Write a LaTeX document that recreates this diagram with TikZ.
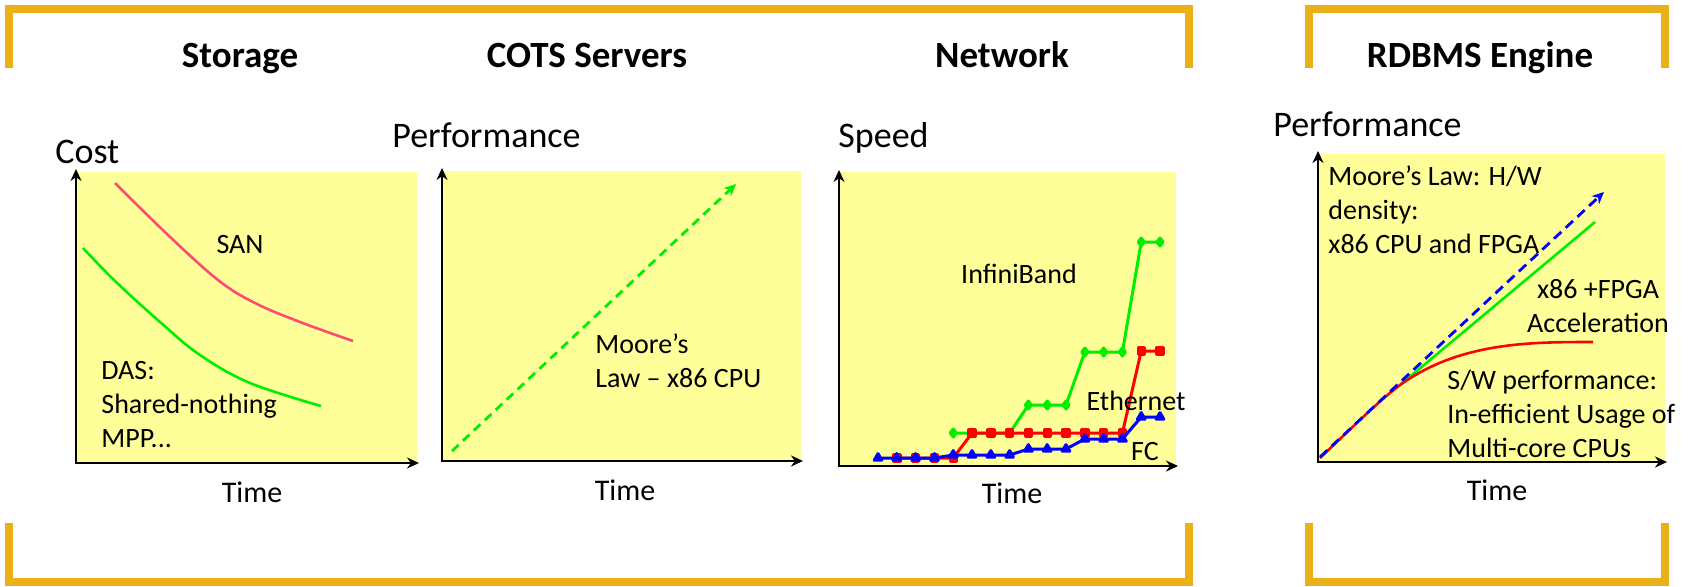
\documentclass[tikz,border=0pt]{standalone}
\usepackage{fontspec}
\setmainfont{Carlito}
\usetikzlibrary{arrows.meta,plotmarks}
\definecolor{bracketgold}{RGB}{234,176,22}
\definecolor{paneltint}{RGB}{255,255,153}
\definecolor{sanpink}{RGB}{255,75,115}
\definecolor{lgreen}{RGB}{0,238,0}
\tikzstyle{panel}=[fill=paneltint]
\tikzstyle{ax}=[draw=black, line width=1.3pt, {Stealth[length=6pt,width=5.5pt]}-{Stealth[length=6pt,width=5.5pt]}]
\tikzstyle{brk}=[draw=bracketgold, line width=4pt]
\tikzstyle{ttl}=[font=\fontsize{18.5}{22}\selectfont\bfseries, anchor=base, inner sep=0]
\tikzstyle{ylab}=[font=\fontsize{18}{21}\selectfont, anchor=base west, inner sep=0]
\tikzstyle{tlab}=[font=\fontsize{15}{18}\selectfont, anchor=base, inner sep=0]
\tikzstyle{lab}=[font=\fontsize{14}{16.8}\selectfont, anchor=base, inner sep=0]
\tikzstyle{blk}=[font=\fontsize{14}{16.8}\selectfont, anchor=base west, align=left, inner sep=0]
\tikzstyle{trend}=[line width=1.4pt, dash pattern=on 4.5pt off 3pt, -{Stealth[length=6pt,width=5.5pt]}]
\tikzstyle{series}=[line width=1.5pt, line join=round]
\begin{document}
\begin{tikzpicture}[x=0.5pt, y=-0.5pt]
	\useasboundingbox (0,0) rectangle (1690,586);

	% brackets
	\draw[brk] (9,68) -- (9,9) -- (1189,9) -- (1189,68);
	\draw[brk] (9,523) -- (9,582) -- (1189,582) -- (1189,523);
	\draw[brk] (1309,68) -- (1309,9) -- (1665,9) -- (1665,68);
	\draw[brk] (1309,523) -- (1309,582) -- (1665,582) -- (1665,523);

	\node [style=ttl] (t1) at (240, 67) {Storage};
	\node [style=ttl] (t2) at (587, 67) {COTS Servers};
	\node [style=ttl] (t3) at (1002, 67) {Network};
	\node [style=ttl] (t4) at (1480, 67) {RDBMS Engine};

	% storage
	\fill[panel] (76,172) rectangle (417,463);
	\coordinate (o1) at (76,463);
	\coordinate (y1) at (76,169);
	\coordinate (x1) at (419,463);
	\draw[ax] (y1) -- (o1) -- (x1);
	\node [style=ylab] (1) at (55, 163) {Cost};
	\node [style=tlab] (2) at (252, 502) {Time};
	\draw[sanpink, line width=1.3pt] plot[smooth, tension=0.6] coordinates {(115,183) (168,235) (218,280) (255,303) (300,322) (353,341)};
	\draw[lgreen, line width=1.3pt] plot[smooth, tension=0.6] coordinates {(83,248) (115,281) (160,322) (200,355) (250,383) (321,406)};
	\node [style=lab] (3) at (240, 253) {SAN};
	% base anchor of a block = its last line
	\node [style=blk] (4) at (101, 447) {DAS:\\Shared-nothing\\MPP...};

	% cots servers
	\fill[panel] (442,171) rectangle (801,461);
	\coordinate (o2) at (442,461);
	\coordinate (y2) at (442,168);
	\coordinate (x2) at (803,461);
	\draw[ax] (y2) -- (o2) -- (x2);
	\node [style=ylab] (5) at (392, 147) {Performance};
	\node [style=tlab] (6) at (625, 500) {Time};
	\coordinate (m1) at (452,451);
	\coordinate (m2) at (736,184);
	\draw[trend, lgreen] (m1) -- (m2);
	\node [style=blk] (7) at (595, 387) {Moore’s\\Law – x86 CPU};

	% network
	\fill[panel] (839,172) rectangle (1176,466);
	\coordinate (o3) at (839,466);
	\coordinate (y3) at (839,170);
	\coordinate (x3) at (1178,466);
	\draw[ax] (y3) -- (o3) -- (x3);
	\node [style=ylab] (8) at (838, 147) {Speed};
	\node [style=tlab] (9) at (1012, 503) {Time};
	\draw[series, lgreen] plot[mark=diamond*, mark size=2pt, mark options={fill=lgreen}] coordinates {(953.2,433) (972,433) (990.8,433) (1009.6,433) (1028.4,405) (1047.2,405) (1066,405) (1084.8,352) (1103.6,352) (1122.4,352) (1141.2,242) (1160,242)};
	\draw[series, red] plot[mark=square*, mark size=1.6pt, mark options={fill=red}] coordinates {(896.8,458) (915.6,458) (934.4,458) (953.2,458) (972,433) (990.8,433) (1009.6,433) (1028.4,433) (1047.2,433) (1066,433) (1084.8,433) (1103.6,433) (1122.4,433) (1141.2,351) (1160,351)};
	\draw[series, blue] plot[mark=triangle*, mark size=2.2pt, mark options={fill=blue}] coordinates {(878,458) (896.8,458) (915.6,458) (934.4,458) (953.2,455) (972,455) (990.8,455) (1009.6,455) (1028.4,449) (1047.2,449) (1066,449) (1084.8,439) (1103.6,439) (1122.4,439) (1141.2,417) (1160,417)};
	\node [style=lab] (10) at (1019, 283) {InfiniBand};
	\node [style=lab] (11) at (1136, 410) {Ethernet};
	\node [style=lab] (12) at (1145, 460) {FC};

	% rdbms engine
	\fill[panel] (1318,154) rectangle (1665,462);
	\coordinate (o4) at (1318,462);
	\coordinate (y4) at (1318,151);
	\coordinate (x4) at (1667,462);
	\draw[ax] (y4) -- (o4) -- (x4);
	\node [style=ylab] (13) at (1273, 136) {Performance};
	\node [style=tlab] (14) at (1497, 500) {Time};
	\coordinate (r1) at (1320,457);
	\coordinate (r2) at (1604,192);
	\coordinate (g1) at (1400,385);
	\coordinate (g2) at (1595,222);
	\draw[lgreen, line width=1.3pt] (g1) -- (g2);
	\draw[red, line width=1.3pt] (1320,458) .. controls (1360,420) and (1380,400) .. (g1) .. controls (1460,342) and (1530,342) .. (1593,342);
	\draw[trend, blue, dash pattern=on 5pt off 3pt] (r1) -- (r2);
	\node [style=blk] (15) at (1328, 253) {Moore’s Law: H/W\\density:\\x86 CPU and FPGA};
	\node [style=lab, align=center] (16) at (1598, 332) {x86 +FPGA\\Acceleration};
	\node [style=blk] (17) at (1447, 457) {S/W performance:\\In-efficient Usage of\\Multi-core CPUs};
\end{tikzpicture}
\end{document}
